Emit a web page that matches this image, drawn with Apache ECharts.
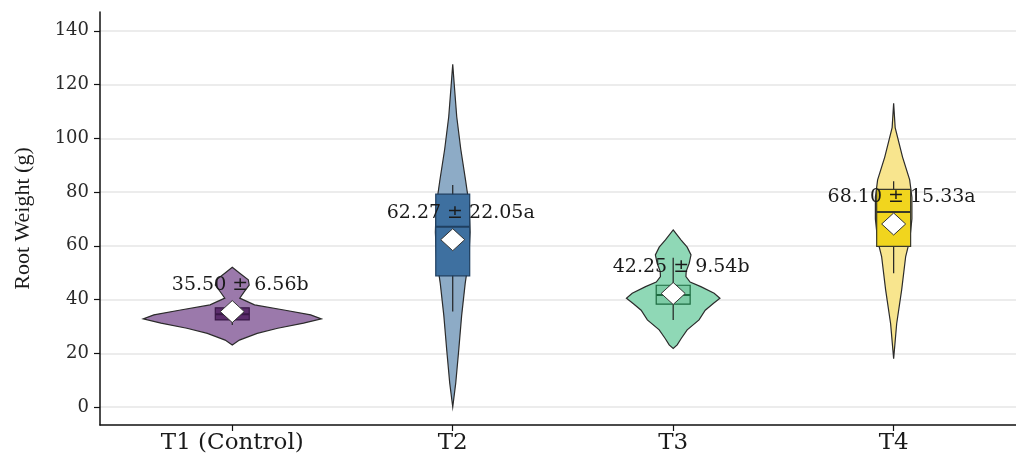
<!DOCTYPE html>
<html><head><meta charset="utf-8">
<script src="https://cdn.jsdelivr.net/npm/echarts@6/dist/echarts.min.js"></script>
<style>html,body{margin:0;padding:0;background:#fff}#c{width:1016px;height:457px}</style>
</head><body><div id="c"></div>
<script>
const categories = ['T1 (Control)', 'T2', 'T3', 'T4'];
const means = [35.50, 62.27, 42.25, 68.10];
const sds = [6.56, 22.05, 9.54, 15.33];
const letters = ['b', 'a', 'b', 'a'];
const q1 = [32.4, 48.8, 38.3, 59.8];
const medians = [34.5, 67.1, 41.7, 72.6];
const q3 = [36.9, 79.2, 45.3, 81.0];
const whiskerLow = [30.5, 35.5, 32.4, 49.8];
const whiskerHigh = [39.5, 82.6, 55.5, 84.0];
const yTicks = [0, 20, 40, 60, 80, 100, 120, 140];
// violin density profiles: [value, relative density]
const violinT1 = [[52,0],[49.8,0.084],[47.3,0.18],[45.4,0.19],[42.9,0.135],[40.5,0.084],[38,0.25],[36.1,0.58],[34.3,0.88],[32.8,1.0],[31.2,0.80],[29.3,0.51],[27.4,0.28],[24.9,0.08],[23.1,0]];
const violinT2 = [[127.5,0],[120,0.017],[108,0.045],[96,0.09],[84,0.146],[75,0.185],[65,0.195],[55,0.18],[46,0.14],[34,0.10],[21,0.067],[9,0.034],[0,0]];
const violinT3 = [[65.9,0],[62.2,0.087],[59.5,0.157],[56.6,0.2],[53.5,0.18],[50.5,0.146],[48.5,0.143],[46.5,0.19],[44.8,0.31],[42.3,0.46],[40.5,0.525],[38.5,0.45],[36,0.36],[32.4,0.29],[28.7,0.157],[25.5,0.09],[23.1,0.045],[21.8,0]];
const violinT4 = [[113,0],[104,0.017],[93,0.10],[84.5,0.18],[78,0.205],[70,0.205],[62,0.18],[56,0.135],[43.6,0.09],[31,0.034],[18,0]];
const violins = [violinT1, violinT2, violinT3, violinT4];

const violinColors = ['#9b79ab', '#8dabc6', '#8fd8b6', '#f8e58e'];
const boxColors = ['#5b2d6c', '#3e70a0', '#7dcca6', '#f1d51e'];
const boxStrokes = ['#3a1848', '#1f3f60', '#1d6b40', '#3a3a2a'];
const SERIF = '"Liberation Serif", "DejaVu Serif", serif';
const WIDE_SERIF = '"DejaVu Serif", serif';

const chart = echarts.init(document.getElementById('c'));

function renderItem(params, api) {
  const i = params.dataIndex;
  const xv = api.value(0);
  const band = api.size([1, 0])[0];
  const cx = api.coord([xv, 0])[0];
  const vScale = band * 0.404;
  const boxHalf = band * 0.077;
  const prof = violins[i];
  const right = prof.map(p => [cx + p[1] * vScale, api.coord([xv, p[0]])[1]]);
  const left = prof.slice().reverse().map(p => [cx - p[1] * vScale, api.coord([xv, p[0]])[1]]);
  const pts = right.concat(left);
  const yq1 = api.coord([xv, q1[i]])[1];
  const yq3 = api.coord([xv, q3[i]])[1];
  const ymed = api.coord([xv, medians[i]])[1];
  const ywl = api.coord([xv, whiskerLow[i]])[1];
  const ywh = api.coord([xv, whiskerHigh[i]])[1];
  const ymean = api.coord([xv, means[i]])[1];
  const ylab = api.coord([xv, means[i] + 10])[1];
  const dw = 12, dh = 11;
  return {
    type: 'group',
    children: [
      { type: 'polygon', shape: { points: pts }, style: { fill: violinColors[i], stroke: '#2b2b2b', lineWidth: 1.2 } },
      { type: 'line', shape: { x1: cx, y1: ywl, x2: cx, y2: ywh }, style: { stroke: '#222', lineWidth: 1.2 } },
      { type: 'rect', shape: { x: cx - boxHalf, y: yq3, width: boxHalf * 2, height: yq1 - yq3 }, style: { fill: boxColors[i], stroke: boxStrokes[i], lineWidth: 1.2 } },
      { type: 'line', shape: { x1: cx - boxHalf, y1: ymed, x2: cx + boxHalf, y2: ymed }, style: { stroke: boxStrokes[i], lineWidth: 2 } },
      { type: 'polygon', shape: { points: [[cx, ymean - dh], [cx + dw, ymean], [cx, ymean + dh], [cx - dw, ymean]] }, style: { fill: '#ffffff', stroke: '#333', lineWidth: 1 } },
      { type: 'text', x: cx + 8, y: ylab, style: { text: means[i].toFixed(2) + ' ± ' + sds[i].toFixed(2) + letters[i], fill: '#1a1a1a', font: '19px ' + WIDE_SERIF, align: 'center', verticalAlign: 'middle' } }
    ]
  };
}

chart.setOption({
  animation: false,
  grid: { left: 100, right: 0, top: 12, bottom: 32 },
  xAxis: {
    type: 'value', min: 0.4, max: 4.555,
    splitLine: { show: false },
    axisLine: { show: true, onZero: false, lineStyle: { color: '#111', width: 1.5 } },
    axisTick: { show: true, customValues: [1, 2, 3, 4], length: 6, lineStyle: { color: '#111', width: 1.2 } },
    axisLabel: { customValues: [1, 2, 3, 4], formatter: v => categories[Math.round(v) - 1], fontFamily: WIDE_SERIF, fontSize: 23, color: '#1a1a1a', margin: 7 }
  },
  yAxis: {
    type: 'value', min: -6.7, max: 147,
    name: 'Root Weight (g)', nameLocation: 'middle', nameGap: 66,
    nameTextStyle: { fontFamily: SERIF, fontSize: 22, color: '#1a1a1a' },
    splitLine: { show: false },
    axisLine: { show: true, lineStyle: { color: '#111', width: 1.5 } },
    axisTick: { show: true, customValues: yTicks, length: 6, lineStyle: { color: '#111', width: 1.2 } },
    axisLabel: { customValues: yTicks, fontFamily: WIDE_SERIF, fontSize: 18, color: '#2a2a2a', margin: 11 }
  },
  series: [
    {
      type: 'line', data: [], z: 0, silent: true,
      markLine: {
        z: 0, silent: true, symbol: 'none', label: { show: false },
        lineStyle: { color: '#ececec', width: 2, type: 'solid' },
        data: yTicks.map(v => ({ yAxis: v }))
      }
    },
    {
      type: 'custom', z: 5,
      renderItem: renderItem,
      encode: { x: 0, y: 1 },
      data: categories.map((c, i) => [i + 1, means[i]])
    }
  ]
});
</script>
</body></html>
